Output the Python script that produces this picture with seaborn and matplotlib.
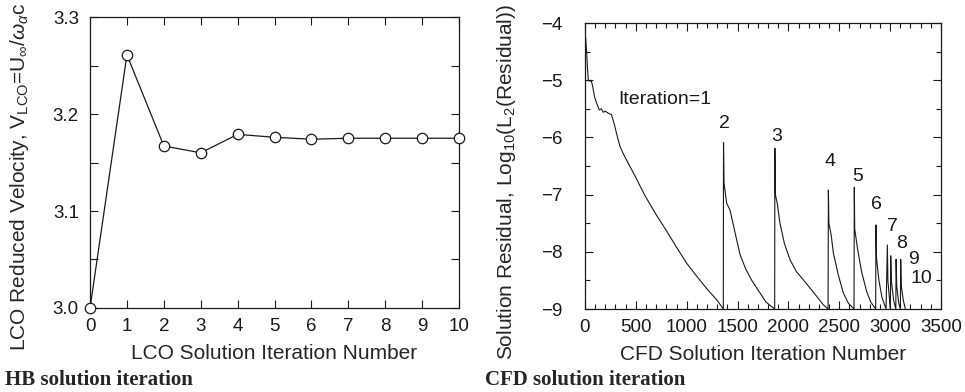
import numpy as np
import pandas as pd
import matplotlib
matplotlib.use("Agg")
import matplotlib.pyplot as plt
import seaborn as sns
from matplotlib.ticker import MultipleLocator

# ---------------- data ----------------
hb_iter = [0, 1, 2, 3, 4, 5, 6, 7, 8, 9, 10]
hb_vlco = [3.000, 3.261, 3.167, 3.160, 3.179, 3.176, 3.174, 3.175, 3.175, 3.175, 3.175]

it1_x = [0, 8, 16, 25, 33, 50, 60, 75, 95, 115, 140, 160, 180, 200, 230, 260, 290, 320, 345, 380,
         440, 500, 550, 600, 700, 800, 900, 1000, 1100, 1200, 1300, 1360]
it1_y = [-4.12, -4.3, -4.5, -4.8, -5.0, -5.02, -5.0, -5.1, -5.3, -5.4, -5.52, -5.5, -5.56, -5.54,
         -5.58, -5.6, -5.78, -6.0, -6.16, -6.3, -6.5, -6.7, -6.88, -7.05, -7.35, -7.63, -7.92,
         -8.2, -8.43, -8.65, -8.85, -9.0]
it2_x = [1360, 1362, 1367, 1393, 1426, 1480, 1525, 1580, 1640, 1721, 1780, 1865]
it2_y = [-9.0, -6.09, -6.8, -7.15, -7.27, -7.7, -8.05, -8.3, -8.5, -8.72, -8.88, -9.0]
it3_x = [1865, 1867, 1872, 1890, 1917, 1960, 2016, 2080, 2147, 2220, 2278, 2340, 2390]
it3_y = [-9.0, -6.19, -7.0, -7.15, -7.5, -7.85, -8.14, -8.35, -8.49, -8.65, -8.78, -8.92, -9.0]
it4_x = [2390, 2393, 2398, 2420, 2442, 2490, 2540, 2590, 2645]
it4_y = [-9.0, -6.92, -7.5, -7.7, -8.02, -8.4, -8.72, -8.9, -9.0]
it5_x = [2645, 2648, 2652, 2680, 2720, 2770, 2810, 2858]
it5_y = [-9.0, -6.87, -7.6, -7.95, -8.35, -8.7, -8.88, -9.0]
it6_x = [2858, 2861, 2866, 2890, 2920, 2960]
it6_y = [-9.0, -7.53, -8.1, -8.5, -8.8, -9.0]
it7_x = [2960, 2973, 2978, 2995, 3003]
it7_y = [-9.0, -7.88, -8.5, -8.85, -9.0]
it8_x = [3003, 3006, 3012, 3035, 3056]
it8_y = [-9.0, -8.07, -8.5, -8.85, -9.0]
it9_x = [3056, 3059, 3065, 3085, 3101]
it9_y = [-9.0, -8.13, -8.6, -8.9, -9.0]
it10_x = [3101, 3104, 3110, 3130, 3150]
it10_y = [-9.0, -8.13, -8.6, -8.85, -9.0]

label_text = ["Iteration=1", "2", "3", "4", "5", "6", "7", "8", "9", "10"]
label_x = [324, 1376, 1885, 2409, 2678, 2868, 3025, 3113, 3228, 3310]
label_y = [-5.33, -5.75, -5.98, -6.42, -6.69, -7.18, -7.56, -7.85, -8.14, -8.46]

# --------------- style ----------------
sns.set_style("white")
plt.rcParams["font.family"] = ["Liberation Sans", "DejaVu Sans"]
plt.rcParams["mathtext.fontset"] = "custom"
plt.rcParams["mathtext.rm"] = "Liberation Sans"
plt.rcParams["mathtext.it"] = "Liberation Sans:italic"
plt.rcParams["mathtext.sf"] = "DejaVu Sans"

fig = plt.figure(figsize=(9.65, 3.92), dpi=100)
ax1 = fig.add_axes([0.0933, 0.2143, 0.3824, 0.7423])
ax2 = fig.add_axes([0.6062, 0.2117, 0.3689, 0.7296])

ink = "#1a1a1a"

# left panel
df_hb = pd.DataFrame({"iter": hb_iter, "v": hb_vlco})
sns.lineplot(data=df_hb, x="iter", y="v", ax=ax1, color=ink, lw=0.9,
             marker="o", markersize=7.5, markerfacecolor="white",
             markeredgecolor=ink, markeredgewidth=0.9, clip_on=False, zorder=5)
ax1.set_xlim(0, 10)
ax1.set_ylim(3.0, 3.3)
ax1.xaxis.set_major_locator(MultipleLocator(1))
ax1.yaxis.set_major_locator(MultipleLocator(0.1))
ax1.yaxis.set_minor_locator(MultipleLocator(0.05))
ax1.yaxis.set_major_formatter(matplotlib.ticker.FormatStrFormatter("%.1f"))
ax1.set_xlabel("LCO Solution Iteration Number", fontsize=15, labelpad=7)
ax1.set_ylabel(r"LCO Reduced Velocity, V$_{\rm LCO}$=U$_\infty$/$\omega_\alpha$c", fontsize=15)
ax1.yaxis.set_label_coords(-0.16, 0.45)

# right panel
segs_x = [it1_x, it2_x, it3_x, it4_x, it5_x, it6_x, it7_x, it8_x, it9_x, it10_x]
segs_y = [it1_y, it2_y, it3_y, it4_y, it5_y, it6_y, it7_y, it8_y, it9_y, it10_y]
rx, ry = [], []
for sx, sy in zip(segs_x, segs_y):
    rx.extend(sx)
    ry.extend(sy)
df_cfd = pd.DataFrame({"n": rx, "r": ry})
sns.lineplot(data=df_cfd, x="n", y="r", ax=ax2, color=ink, lw=0.8,
             sort=False, estimator=None)
ax2.set_xlim(0, 3500)
ax2.set_ylim(-9, -4)
ax2.xaxis.set_major_locator(MultipleLocator(500))
ax2.xaxis.set_minor_locator(MultipleLocator(100))
ax2.yaxis.set_major_locator(MultipleLocator(1))
ax2.yaxis.set_minor_locator(MultipleLocator(0.5))
ax2.set_xlabel("CFD Solution Iteration Number", fontsize=15, labelpad=7)
ax2.set_ylabel(r"Solution Residual, Log$_{10}$(L$_2$(Residual))", fontsize=15)
ax2.yaxis.set_label_coords(-0.188, 0.444)
for t, x, y in zip(label_text, label_x, label_y):
    ax2.text(x, y, t, fontsize=14, ha="left" if t.startswith("It") else "center",
             va="center", color=ink)

for ax in (ax1, ax2):
    for s in ax.spines.values():
        s.set_visible(True)
        s.set_color(ink)
        s.set_linewidth(0.9)
    ax.tick_params(which="both", direction="in", top=True, right=True,
                   bottom=True, left=True, colors=ink, labelsize=13.5, pad=7)
    ax.tick_params(which="major", length=6, width=0.8)
    ax.tick_params(which="minor", length=3.5, width=0.8)
    ax.grid(False)
ax1.tick_params(axis="y", which="minor", length=6)
ax1.tick_params(axis="y", pad=8)
ax2.tick_params(axis="y", pad=16)

fig.text(0.005, 0.018, "HB solution iteration", fontsize=15, fontweight="bold",
         family=["Liberation Serif", "DejaVu Serif"], ha="left", va="baseline")
fig.text(0.503, 0.018, "CFD solution iteration", fontsize=15, fontweight="bold",
         family=["Liberation Serif", "DejaVu Serif"], ha="left", va="baseline")

fig.savefig("out.png", dpi=100)
